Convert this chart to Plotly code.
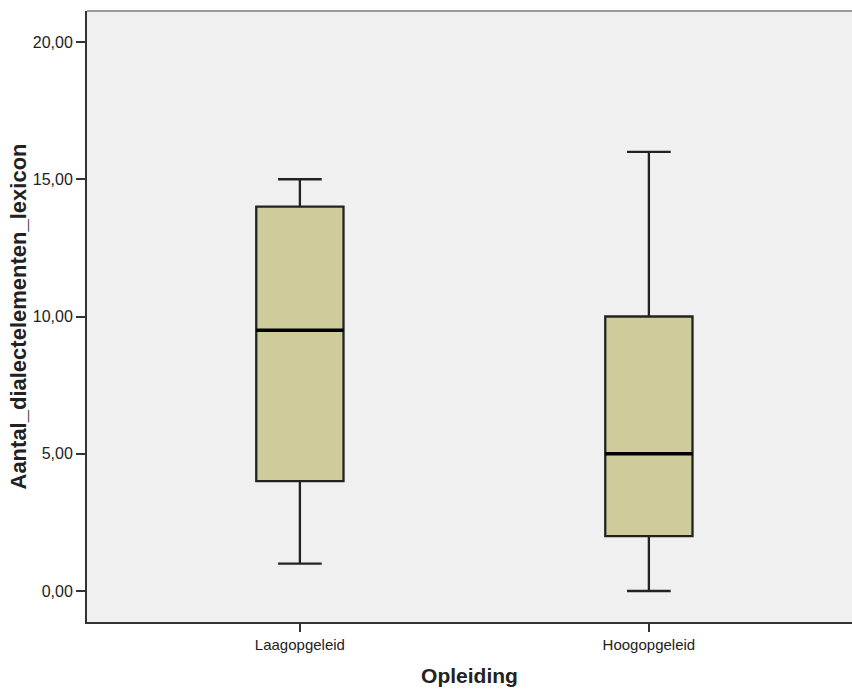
import plotly.graph_objects as go

categories = ["Laagopgeleid", "Hoogopgeleid"]
positions = [0, 1]
lower_fence = [1, 0]
q1 = [4, 2]
median = [9.5, 5]
q3 = [14, 10]
upper_fence = [15, 16]
y_ticks = [0, 5, 10, 15, 20]

BOX_W = 0.25
fig = go.Figure()
fig.add_trace(go.Box(
    x=positions, q1=q1, median=median, q3=q3,
    lowerfence=lower_fence, upperfence=upper_fence,
    width=BOX_W, whiskerwidth=0.5, boxpoints=False,
    fillcolor="#CDCC9A", line=dict(color="#222222", width=2.3),
    hoverinfo="skip", showlegend=False,
))
# thicker median line (SPSS style)
mx, my = [], []
for p, m in zip(positions, median):
    mx += [p - BOX_W / 2, p + BOX_W / 2, None]
    my += [m, m, None]
fig.add_trace(go.Scatter(x=mx, y=my, mode="lines",
                         line=dict(color="#000000", width=3.5),
                         hoverinfo="skip", showlegend=False))

fig.update_layout(
    width=852, height=689,
    margin=dict(l=87, r=0, t=11, b=67),
    paper_bgcolor="white", plot_bgcolor="#F0F0F0",
    separators=",.",
    font=dict(family="Liberation Sans, Arial, sans-serif", color="#222"),
    xaxis=dict(
        range=[-0.61, 1.582], tickvals=positions, ticktext=categories,
        showgrid=False, zeroline=False, showline=True,
        linecolor="#333", linewidth=2, ticks="outside", ticklen=8,
        tickwidth=2, tickcolor="#333",
        tickfont=dict(size=15, family="Liberation Sans, Arial, sans-serif", color="#222"),
        title=dict(text="<b>Opleiding</b>", standoff=16,
                   font=dict(size=21, family="Liberation Sans, Arial, sans-serif", color="#222")),
    ),
    yaxis=dict(
        range=[-1.13, 21.13], tickvals=y_ticks, tickformat=".2f",
        showgrid=False, zeroline=False, showline=True,
        linecolor="#333", linewidth=2, ticks="outside", ticklen=9,
        tickwidth=2, tickcolor="#333",
        tickfont=dict(size=16, family="Liberation Sans, Arial, sans-serif", color="#222"),
        title=dict(text="<b>Aantal_dialectelementen_lexicon</b>", standoff=0,
                   font=dict(size=22, family="Liberation Sans, Arial, sans-serif", color="#222")),
    ),
    shapes=[dict(type="line", xref="paper", yref="paper", x0=0, x1=1, y0=1, y1=1,
                 line=dict(color="#9a9a9a", width=2))],
)

fig.write_html("out.html")
